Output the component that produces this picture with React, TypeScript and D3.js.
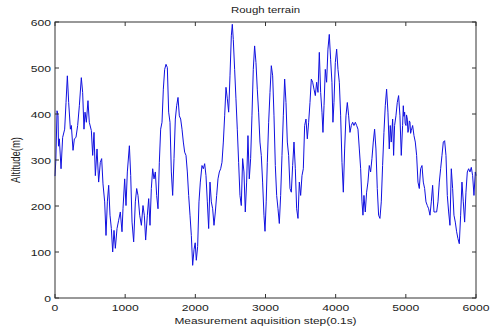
import React from "react";
import * as d3 from "d3";

const steps = [
  0, 12, 29, 43, 50, 62, 86, 109, 138, 157, 176, 195, 219, 233, 257, 276, 299, 323, 347, 375, 394, 413, 428, 447, 470, 489, 518, 537, 556, 575, 599, 622, 646, 665, 684, 708, 727, 746, 765, 784, 803, 822, 841, 860, 884, 907, 931,
  955, 969, 993, 1012, 1031, 1060, 1079, 1098, 1121, 1145, 1164, 1183, 1207, 1231, 1254, 1273, 1292, 1316, 1335, 1354, 1373, 1392, 1411, 1430, 1449, 1468, 1487, 1506, 1525, 1544, 1563, 1582, 1601, 1620, 1639, 1658, 1677, 1696, 1715, 1734, 1753, 1772, 1791, 1810, 1829, 1848, 1867, 1886, 1905, 1924, 1943,
  1962, 1981, 1998, 2014, 2033, 2052, 2071, 2095, 2114, 2133, 2152, 2171, 2190, 2209, 2228, 2247, 2266, 2285, 2304, 2323, 2342, 2361, 2380, 2399, 2418, 2437, 2456, 2475, 2494, 2513, 2527, 2541, 2560, 2579, 2598, 2617, 2636, 2655, 2674, 2693, 2712, 2731, 2750, 2769, 2788, 2807, 2826, 2845, 2864, 2883, 2902, 2921, 2940, 2959,
  2978, 2993, 3010, 3026, 3045, 3064, 3083, 3102, 3121, 3140, 3159, 3178, 3197, 3216, 3235, 3254, 3273, 3292, 3311, 3330, 3349, 3368, 3387, 3406, 3425, 3444, 3463, 3482, 3501, 3520, 3539, 3558, 3577, 3596, 3615, 3634, 3653, 3672, 3691, 3710, 3729, 3748, 3767, 3786, 3805, 3819, 3834, 3852, 3871, 3890, 3909, 3928,
  3947, 3961, 3976, 3995, 4014, 4033, 4052, 4071, 4090, 4109, 4128, 4147, 4166, 4185, 4204, 4223, 4242, 4261, 4280, 4299, 4318, 4337, 4356, 4375, 4389, 4403, 4422, 4441, 4460, 4479, 4498, 4517, 4536, 4555, 4574, 4593, 4612, 4631, 4650, 4669, 4688, 4707, 4726, 4745, 4764, 4778, 4792, 4812, 4826, 4840, 4859, 4878, 4897, 4916, 4935,
  4954, 4964, 4972, 4983, 4990, 5002, 5010, 5021, 5030, 5040, 5050, 5059, 5068, 5078, 5097, 5116, 5135, 5154, 5173, 5192, 5211, 5230, 5249, 5268, 5287, 5306, 5325, 5344, 5363, 5382, 5401, 5420, 5439, 5458, 5477, 5496, 5515, 5534, 5553, 5572, 5591, 5610, 5629, 5648, 5667, 5686, 5705, 5724, 5743, 5762, 5781, 5800, 5819, 5838, 5857, 5876, 5895, 5914, 5933, 5952, 5971, 5990, 6000,
];

const altitude = [
  265, 300, 407, 396, 330, 346, 281, 349, 367, 425, 483, 425, 367, 375, 321, 346, 349, 375, 418, 479, 447, 367, 404, 382, 429, 382, 364, 310, 360, 266, 324, 252, 295, 303, 248, 209, 136, 209, 245, 180, 151, 100, 147, 108, 151, 169, 187,
  144, 194, 259, 201, 274, 331, 266, 165, 122, 209, 238, 223, 180, 158, 201, 180, 126, 180, 216, 158, 238, 281, 259, 274, 223, 194, 295, 367, 382, 454, 497, 508, 501, 404, 382, 274, 223, 303, 389, 418, 436, 396, 389, 367, 339, 317, 310, 274, 223, 180, 136,
  71, 105, 120, 82, 112, 209, 252, 288, 281, 292, 266, 209, 151, 252, 209, 194, 158, 187, 223, 259, 274, 281, 295, 339, 396, 458, 433, 404, 483, 570, 595, 562, 497, 433, 367, 295, 223, 201, 303, 274, 187, 252, 353, 259, 303, 396, 497, 548, 512, 454, 404, 339, 310, 252,
  180, 145, 209, 295, 382, 447, 505, 483, 396, 288, 223, 194, 162, 223, 310, 396, 476, 425, 339, 310, 238, 230, 288, 339, 281, 194, 173, 252, 223, 266, 281, 375, 389, 346, 382, 425, 476, 469, 454, 440, 469, 447, 534, 447, 404, 360, 418, 497, 469, 541, 573, 519,
  469, 382, 425, 512, 541, 497, 469, 396, 295, 230, 324, 396, 425, 396, 360, 375, 382, 375, 382, 375, 367, 324, 281, 209, 180, 223, 187, 230, 252, 288, 274, 303, 339, 367, 324, 238, 180, 173, 209, 288, 360, 418, 454, 404, 324, 375, 339, 389, 310, 375, 396, 425, 440, 396, 310,
  375, 418, 395, 404, 380, 375, 398, 389, 360, 367, 385, 382, 358, 364, 375, 353, 339, 310, 252, 238, 281, 288, 252, 238, 209, 201, 194, 180, 209, 245, 187, 187, 187, 209, 252, 281, 310, 339, 342, 310, 223, 187, 158, 281, 238, 180, 165, 144, 129, 118, 180, 252, 209, 165, 230, 274, 281, 274, 284, 266, 223, 274, 266,
];

const xTicks = [0, 1000, 2000, 3000, 4000, 5000, 6000];
const yTicks = [0, 100, 200, 300, 400, 500, 600];

const W = 490;
const H = 331;
const left = 55;
const right = 476;
const top = 22;
const bottom = 298;
const FONT = "'Liberation Sans', Arial, sans-serif";

export default function App() {
  const x = d3.scaleLinear().domain([0, 6000]).range([left, right]);
  const y = d3.scaleLinear().domain([0, 600]).range([bottom, top]);
  const data = steps.map((s, i) => [s, altitude[i]] as [number, number]);
  const line = d3
    .line<[number, number]>()
    .x((d) => x(d[0]))
    .y((d) => y(d[1]));
  const tl = 4;
  const axisColor = "#333";
  return (
    <svg
      width={W}
      height={H}
      style={{ position: "absolute", left: 0, top: 0, background: "#fff" }}
    >
      <rect x={0} y={0} width={W} height={H} fill="#fff" />
      <path d={line(data) || ""} fill="none" stroke="#1010e0" strokeWidth={1} />
      <rect
        x={left}
        y={top}
        width={right - left}
        height={bottom - top}
        fill="none"
        stroke={axisColor}
        strokeWidth={1}
      />
      {xTicks.map((t) => (
        <g key={"x" + t}>
          <line x1={x(t)} x2={x(t)} y1={bottom} y2={bottom - tl} stroke={axisColor} />
          <line x1={x(t)} x2={x(t)} y1={top} y2={top + tl} stroke={axisColor} />
          <text
            transform={`translate(${x(t)},${bottom + 13}) scale(1.28,1)`}
            textAnchor="middle"
            fontFamily={FONT}
            fontSize={9.5}
            fill="#222"
          >
            {t}
          </text>
        </g>
      ))}
      {yTicks.map((t) => (
        <g key={"y" + t}>
          <line x1={left} x2={left + tl} y1={y(t)} y2={y(t)} stroke={axisColor} />
          <line x1={right} x2={right - tl} y1={y(t)} y2={y(t)} stroke={axisColor} />
          <text
            transform={`translate(${left - 4},${y(t) + 3.5}) scale(1.28,1)`}
            textAnchor="end"
            fontFamily={FONT}
            fontSize={9.5}
            fill="#222"
          >
            {t}
          </text>
        </g>
      ))}
      <text
        transform={`translate(${(left + right) / 2},13) scale(1.2,1)`}
        textAnchor="middle"
        fontFamily={FONT}
        fontSize={9.5}
        fill="#222"
      >
        Rough terrain
      </text>
      <text
        transform={`translate(${(left + right) / 2},324) scale(1.25,1)`}
        textAnchor="middle"
        fontFamily={FONT}
        fontSize={9.5}
        fill="#222"
      >
        Measurement aquisition step(0.1s)
      </text>
      <text
        transform={`translate(20,${(top + bottom) / 2}) rotate(-90) scale(1,1.25)`}
        textAnchor="middle"
        fontFamily={FONT}
        fontSize={9.5}
        fill="#222"
      >
        Altitude(m)
      </text>
    </svg>
  );
}
